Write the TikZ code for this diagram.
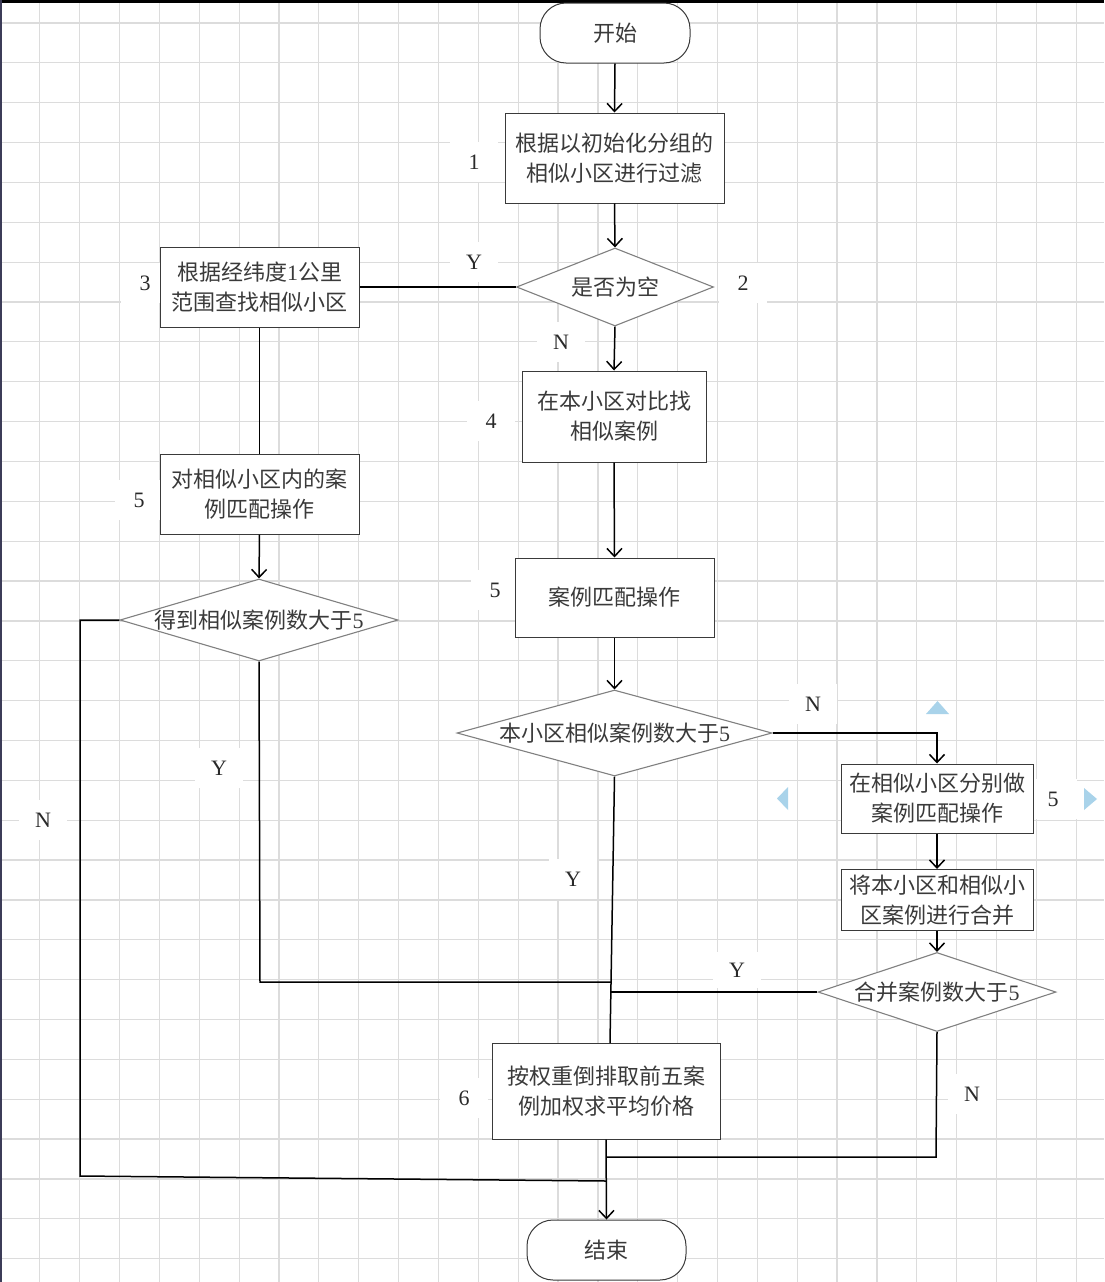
\documentclass[tikz,border=0pt]{standalone}
\usepackage{fontspec}
\setmainfont{Liberation Serif}
\newfontfamily\cjk{Noto Sans CJK SC}
\usetikzlibrary{shapes.geometric,arrows.meta}
\definecolor{gridc}{HTML}{DCDCDC}
\definecolor{boxc}{HTML}{3A3A3A}
\definecolor{diac}{HTML}{808080}
\definecolor{txtc}{HTML}{2A2A2A}
\definecolor{cjkc}{HTML}{3A3A3A}
\definecolor{navyc}{HTML}{3C3C58}
\definecolor{handc}{HTML}{A9D3EA}
\newcommand\dtext[1]{\smash{\makebox[0pt]{\raisebox{-0.38em}{#1}}}}
\begin{document}
\begin{tikzpicture}[x=1pt,y=-1pt,
  gridline/.style={draw=gridc, line width=1.2pt},
  box/.style={rectangle, draw=boxc, line width=1pt, fill=white, inner sep=0pt, align=center,
    font=\cjk\fontsize{22}{30}\selectfont, text=cjkc},
  term/.style={box, rounded corners=26pt},
  dia/.style={diamond, draw=diac, line width=1.1pt, fill=white, inner sep=0pt,
    font=\cjk\fontsize{22}{30}\selectfont, text=cjkc},
  lab/.style={fill=white, minimum width=48pt, minimum height=40pt, inner sep=0pt,
    font=\fontsize{22}{22}\selectfont, text=txtc},
  conn/.style={draw=black, line width=1.5pt},
  arr/.style={conn, -{Straight Barb[length=8pt,width=15pt,line width=1.5pt]}},
  handle/.style={fill=handc, draw=none}
]
\useasboundingbox (0,0) rectangle (1104,1282);
\fill[white] (0,0) rectangle (1104,1282);
% grid
\foreach \i in {1,...,27} { \draw[gridline] (\i*39.86,0) -- (\i*39.86,1282); }
\foreach \j in {0,...,31} { \draw[gridline] (0,23+\j*39.86) -- (1104,23+\j*39.86); }
% window borders
\fill[black] (0,0) rectangle (1104,3);
\fill[navyc] (0,0) rectangle (2,1282);

% labels
\node[lab] (l1) at (474,162) {1};
\node[lab] (l2) at (743,283) {2};
\node[lab] (l3) at (145,283) {3};
\node[lab] (l4) at (491,421) {4};
\node[lab] (l5a) at (139,500) {5};
\node[lab] (l5b) at (495,590) {5};
\node[lab] (l5c) at (1053,799) {5};
\node[lab] (l6) at (464,1098) {6};
\node[lab] (ly1) at (474,262) {Y};
\node[lab] (ln1) at (561,342) {N};
\node[lab] (ln2) at (813,704) {N};
\node[lab] (ly2) at (219,768) {Y};
\node[lab] (ln3) at (43,820) {N};
\node[lab] (ly3) at (573,879) {Y};
\node[lab, minimum height=36pt] (ly4) at (737,970) {Y};
\node[lab] (ln4) at (972,1094) {N};

% selection handles
\fill[handle] (926,714) -- (949,714) -- (937.5,701) -- cycle;
\fill[handle] (788,787) -- (788,810) -- (777,798.5) -- cycle;
\fill[handle] (1084,788) -- (1084,810) -- (1097,799) -- cycle;

% shapes
\node[term, minimum width=150pt, minimum height=60pt] (start) at (615,33) {开始};
\node[box, minimum width=219pt, minimum height=90pt] (b1) at (614.5,158) {根据以初始化分组的\\相似小区进行过滤};
\node[dia, minimum width=197pt, minimum height=78pt] (d2) at (615,287) {\dtext{是否为空}};
\node[box, minimum width=199pt, minimum height=80pt] (b3) at (259.5,287) {根据经纬度{\rmfamily 1}公里\\范围查找相似小区};
\node[box, minimum width=184pt, minimum height=91pt] (b4) at (614,416.5) {在本小区对比找\\相似案例};
\node[box, minimum width=199pt, minimum height=80pt] (b5L) at (259.5,494) {对相似小区内的案\\例匹配操作};
\node[dia, minimum width=278pt, minimum height=82pt] (dL) at (259,620) {\dtext{得到相似案例数大于{\rmfamily 5}}};
\node[box, minimum width=199pt, minimum height=79pt] (b5M) at (614.5,597.5) {案例匹配操作};
\node[dia, minimum width=315pt, minimum height=86pt] (dM) at (614.5,733) {\dtext{本小区相似案例数大于{\rmfamily 5}}};
\node[box, minimum width=192pt, minimum height=69pt] (b7) at (937,798.5) {在相似小区分别做\\案例匹配操作};
\node[box, minimum width=192pt, minimum height=61pt] (b8) at (937,900) {将本小区和相似小\\区案例进行合并};
\node[dia, minimum width=238pt, minimum height=79pt] (dG) at (937,992) {\dtext{合并案例数大于{\rmfamily 5}}};
\node[box, minimum width=228pt, minimum height=96pt] (b6) at (606,1091) {按权重倒排取前五案\\例加权求平均价格};
\node[term, minimum width=159pt, minimum height=60pt] (stop) at (606.5,1250) {结束};

% connectors
\draw[arr] (start.south) -- (b1.north);
\draw[arr] (b1.south) -- (d2.north);
\draw[conn] (d2.west) -- (b3.east);
\draw[arr] (d2.south) -- (b4.north);
\draw[conn] (b3.south) -- (b5L.north);
\draw[arr] (b4.south) -- (b5M.north);
\draw[arr] (b5L.south) -- (dL.north);
\draw[arr] (b5M.south) -- (dM.north);
\draw[arr] (dM.east) -| (b7.north);
\draw[arr] (b7.south) -- (b8.north);
\draw[arr] (b8.south) -- (dG.north);

\coordinate (nL1) at (80,620);
\coordinate (nL2) at (80,1176);
\coordinate (jN) at (606,1181);
\draw[conn] (dL.west) -- (nL1) -- (nL2) -- (jN);

\coordinate (yL1) at (260,982);
\coordinate (jY) at (611,982);
\draw[conn] (dL.south) -- (yL1) -- (jY);

\coordinate (m6) at (610,1043);
\draw[conn] (dM.south) -- (m6);

\coordinate (jY2) at (611,992);
\draw[conn] (dG.west) -- (jY2);

\coordinate (nG1) at (936,1157);
\coordinate (jN2) at (606,1157);
\draw[conn] (dG.south) -- (nG1) -- (jN2);

\draw[arr] (b6.south) -- (stop.north);
\end{tikzpicture}
\end{document}
